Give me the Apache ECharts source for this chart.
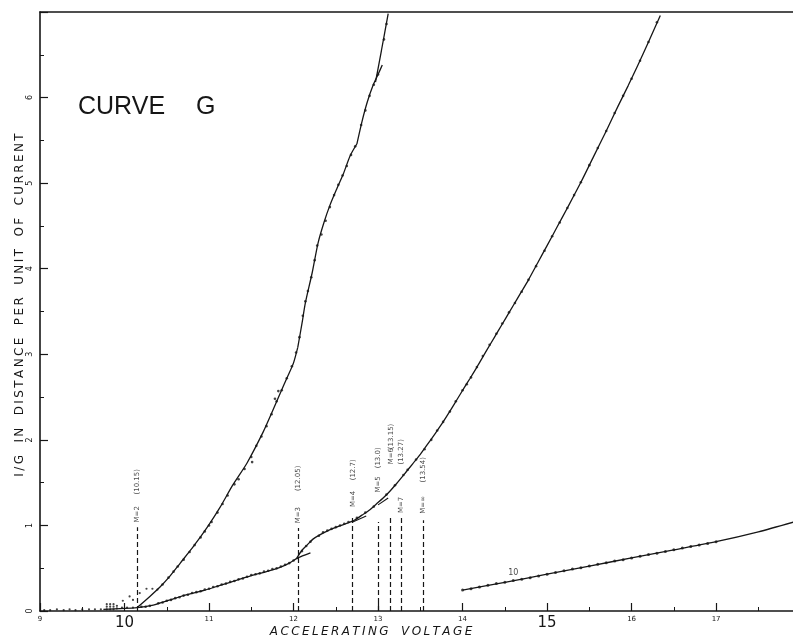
<!DOCTYPE html>
<html><head><meta charset="utf-8">
<script src="https://cdn.jsdelivr.net/npm/echarts@6/dist/echarts.min.js"></script>
<style>html,body{margin:0;padding:0;background:#fff}#c{width:793px;height:641px}</style>
</head><body><div id="c"></div>
<script>
// ---------- DATA ----------
const xTickValues = [9,10,11,12,13,14,15,16,17];
const bigXTicks = [10,15];
const yTickValues = [0,1,2,3,4,5,6];

// steep curve (left)
const curve1Lower  = [[10.15,0.04],[10.3,0.17],[10.42,0.28],[10.54,0.41],[10.66,0.56],[10.82,0.76],[10.98,0.98],[11.13,1.21],[11.28,1.47],[11.45,1.73],[11.64,2.09],[11.74,2.31],[11.84,2.54],[11.93,2.74],[12.0,2.9],[12.05,3.08]];
const curve1Middle = [[12.05,3.08],[12.10,3.36],[12.14,3.60],[12.22,3.95],[12.29,4.30],[12.36,4.54],[12.43,4.74],[12.51,4.93],[12.59,5.11],[12.67,5.32],[12.75,5.46]];
const curve1Upper  = [[12.75,5.46],[12.81,5.72],[12.87,5.94],[12.94,6.14],[13.0,6.27],[13.05,6.38]];
const curve1Top    = [[12.97,6.18],[13.04,6.55],[13.12,6.98]];
const curve1Dots = [[10.45,0.31],[10.52,0.39],[10.58,0.46],[10.63,0.52],[10.7,0.6],[10.77,0.69],[10.83,0.77],[10.9,0.86],[10.95,0.93],[11.0,1.0],[11.03,1.04],[11.1,1.15],[11.16,1.25],[11.22,1.35],[11.3,1.48],[11.35,1.54],[11.42,1.66],[11.5,1.8],[11.56,1.93],[11.62,2.04],[11.68,2.16],[11.74,2.3],[11.8,2.45],[11.86,2.58],[11.92,2.72],[11.98,2.86],[12.03,3.02],[12.07,3.2],[12.11,3.45],[12.14,3.62],[12.17,3.74],[12.21,3.9],[12.25,4.1],[12.28,4.27],[12.33,4.4],[12.38,4.56],[12.43,4.72],[12.48,4.86],[12.53,4.98],[12.58,5.09],[12.63,5.2],[12.68,5.33],[12.73,5.43],[12.8,5.68],[12.85,5.85],[12.9,6.02],[12.95,6.15],[13.0,6.27],[13.07,6.68],[13.1,6.86],[11.78,2.48],[11.82,2.57],[11.51,1.74]];

// middle curve
const curve2Lower = [[9.75,0.02],[10.15,0.04],[10.34,0.07],[10.54,0.13],[10.74,0.19],[10.94,0.24],[11.13,0.30],[11.33,0.36],[11.52,0.42],[11.68,0.46],[11.84,0.51],[11.95,0.56],[12.05,0.62],[12.2,0.68]];
const curve2Upper = [[12.04,0.62],[12.1,0.71],[12.16,0.77],[12.23,0.84],[12.31,0.89],[12.41,0.94],[12.51,0.98],[12.62,1.02],[12.72,1.06],[12.81,1.12],[12.9,1.18],[12.98,1.25],[13.06,1.32],[13.14,1.4],[13.22,1.49],[13.32,1.61],[13.41,1.72],[13.5,1.83],[13.58,1.94],[13.68,2.08],[13.77,2.21],[13.86,2.35],[13.94,2.48],[14.02,2.61],[14.09,2.72],[14.17,2.85],[14.24,2.97],[14.33,3.12],[14.42,3.27],[14.51,3.42],[14.6,3.57],[14.69,3.72],[14.78,3.87],[14.89,4.07],[15.0,4.27],[15.12,4.49],[15.24,4.71],[15.4,5.01],[15.55,5.31],[15.7,5.61],[15.84,5.9],[15.96,6.14],[16.07,6.37],[16.2,6.65],[16.34,6.96]];
const curve2Ext1 = [[12.7,1.04],[12.86,1.11]];
const curve2Ext2 = [[13.0,1.24],[13.12,1.32]];
const curve2Dots = [[10.2,0.05],[10.25,0.05],[10.3,0.06],[10.4,0.09],[10.45,0.1],[10.5,0.12],[10.55,0.13],[10.6,0.15],[10.65,0.16],[10.7,0.18],[10.75,0.19],[10.8,0.21],[10.85,0.22],[10.9,0.23],[10.95,0.25],[11.0,0.26],[11.05,0.28],[11.1,0.29],[11.15,0.31],[11.2,0.32],[11.25,0.34],[11.3,0.35],[11.35,0.37],[11.4,0.38],[11.45,0.4],[11.5,0.42],[11.55,0.43],[11.6,0.44],[11.65,0.46],[11.7,0.47],[11.75,0.49],[11.8,0.5],[11.85,0.52],[11.9,0.54],[11.95,0.56],[12.0,0.59],[12.05,0.62],[12.1,0.7],[12.15,0.76],[12.2,0.81],[12.3,0.88],[12.35,0.92],[12.4,0.94],[12.45,0.96],[12.5,0.98],[12.55,1.0],[12.6,1.02],[12.65,1.04],[12.75,1.09],[12.85,1.15],[12.95,1.22],[13.1,1.36],[13.2,1.47],[13.3,1.59],[13.35,1.65],[13.45,1.77],[13.55,1.89],[13.63,2.0],[13.7,2.11],[13.77,2.21],[13.85,2.33],[13.92,2.45],[14.0,2.58],[14.05,2.65],[14.1,2.73],[14.17,2.85],[14.24,2.98],[14.32,3.11],[14.4,3.24],[14.47,3.36],[14.55,3.49],[14.62,3.6],[14.7,3.73],[14.78,3.87],[14.87,4.03],[14.97,4.21],[15.06,4.38],[15.15,4.54],[15.24,4.71],[15.32,4.86],[15.4,5.01],[15.5,5.21],[15.6,5.41],[15.7,5.61],[15.8,5.82],[15.9,6.02],[16.0,6.22],[16.1,6.43],[16.2,6.65],[16.3,6.88]];

// near-zero scattered points
const zeroDots = [[9.05,0.01],[9.12,0.01],[9.2,0.02],[9.28,0.01],[9.35,0.02],[9.42,0.01],[9.5,0.02],[9.58,0.02],[9.65,0.02],[9.72,0.02],[9.79,0.02],[9.79,0.05],[9.79,0.08],[9.83,0.02],[9.83,0.05],[9.83,0.08],[9.87,0.02],[9.87,0.05],[9.87,0.08],[9.91,0.03],[9.91,0.06],[9.97,0.04],[10.03,0.04],[10.1,0.04],[9.98,0.12],[10.06,0.17],[10.1,0.13],[10.18,0.21],[10.26,0.26],[10.33,0.26],[10.39,0.25]];

// curve "10"
const curve3Line = [[14.0,0.245],[14.5,0.335],[15.0,0.43],[15.5,0.525],[16.0,0.62],[16.5,0.715],[17.0,0.81],[17.5,0.925],[17.92,1.04]];
const curve3X = [14.0,14.1,14.2,14.3,14.4,14.5,14.6,14.7,14.8,14.9,15.0,15.1,15.2,15.3,15.4,15.5,15.6,15.7,15.8,15.9,16.0,16.1,16.2,16.3,16.4,16.5,16.6,16.7,16.8,16.9,17.0];
const curve3Y = [0.245,0.26,0.28,0.30,0.32,0.335,0.355,0.37,0.39,0.41,0.43,0.45,0.47,0.49,0.505,0.525,0.545,0.565,0.585,0.60,0.62,0.64,0.66,0.675,0.695,0.715,0.735,0.755,0.77,0.79,0.81];
const curve3Label = {x:14.6, y:0.44, text:'10'};

// series-limit markers
const markerX     = [10.15, 12.05, 12.7, 13.0, 13.15, 13.27, 13.54];
const markerTop   = [0.98, 0.97, 1.10, 1.04, 1.10, 1.12, 1.06];
const markerNames = ['M=2','M=3','M=4','M=5','M=6','M=7','M=∞'];
const markerVals  = ['(10.15)','(12.05)','(12.7)','(13.0)','(13.15)','(13.27)','(13.54)'];
const markerNameY = [1.13, 1.12, 1.31, 1.48, 1.81, 1.24, 1.24];
const markerValY  = [1.51, 1.55, 1.65, 1.79, 2.04, 1.86, 1.65];

const titleText = 'CURVE G';
const xName = 'ACCELERATING VOLTAGE';
const yName = 'I/G IN DISTANCE PER UNIT OF CURRENT';

// ---------- CHART ----------
const INK = '#161616';
const FONT = '"DejaVu Sans", "Liberation Sans", sans-serif';
const X_MIN = 9, X_MAX = 17.91;
const chart = echarts.init(document.getElementById('c'), null, {renderer:'canvas'});

function spaced(s, sep){ return s.split(' ').map(w => w.split('').join(sep)).join(sep+'  '+sep); }

function lineSeries(data, w){
  return {type:'line', data, smooth:0.25, showSymbol:false, silent:true, clip:true,
    lineStyle:{color:INK, width:w||1.3}, z:3};
}
function dotSeries(data, size){
  return {type:'scatter', data, symbol:'circle', symbolSize:size||2.6, silent:true,
    itemStyle:{color:INK}, z:4};
}

const option = {
  animation:false,
  backgroundColor:'#fff',
  grid:{left:40, right:0, top:12, bottom:30},
  xAxis:[{
    type:'value', min:X_MIN, max:X_MAX, interval:1,
    axisLine:{show:true, onZero:false, lineStyle:{color:INK, width:1.6}},
    axisTick:{show:true, inside:true, length:8, lineStyle:{color:INK, width:1.2}},
    splitLine:{show:false},
    axisLabel:{margin:5, color:INK, fontFamily:FONT, showMaxLabel:false,
      formatter:v => xTickValues.includes(v) ? (bigXTicks.includes(v) ? '{b|'+v+'}' : '{s|'+v+'}') : '',
      rich:{s:{fontSize:7, fontFamily:FONT, color:INK}, b:{fontSize:15, fontFamily:FONT, color:INK}}}
  },{
    type:'value', min:X_MIN, max:X_MAX, position:'top',
    axisLine:{show:true, onZero:false, lineStyle:{color:INK, width:1.6}},
    axisTick:{show:false}, axisLabel:{show:false}, splitLine:{show:false}
  },{
    type:'value', min:X_MIN, max:X_MAX, interval:0.5, position:'bottom',
    axisLine:{show:false}, axisLabel:{show:false}, splitLine:{show:false},
    axisTick:{show:true, inside:true, length:4, lineStyle:{color:INK, width:1}}
  }],
  yAxis:{
    type:'value', min:0, max:7, interval:1,
    axisLine:{show:true, onZero:false, lineStyle:{color:INK, width:1.6}},
    axisTick:{show:true, inside:true, length:8, lineStyle:{color:INK, width:1.2}},
    minorTick:{show:true, splitNumber:2, length:4, lineStyle:{color:INK, width:1}},
    splitLine:{show:false},
    axisLabel:{margin:6, rotate:90, fontSize:8, color:INK, fontFamily:FONT,
      formatter:v => yTickValues.includes(v) ? String(v) : ''}
  },
  series:[
    lineSeries(curve1Lower), lineSeries(curve1Middle), lineSeries(curve1Upper), lineSeries(curve1Top),
    lineSeries(curve2Lower), lineSeries(curve2Upper), lineSeries(curve2Ext1,1.1), lineSeries(curve2Ext2,1.1),
    lineSeries(curve3Line),
    dotSeries(curve1Dots), dotSeries(curve2Dots), dotSeries(zeroDots,2.2),
    dotSeries(curve3X.map((x,i)=>[x,curve3Y[i]]), 3),
    {
      type:'scatter', silent:true, symbolSize:0, z:5,
      data: markerX.map((x,i)=>[x, markerNameY[i]]),
      label:{show:true, position:'inside', rotate:90, fontSize:7, color:INK, fontFamily:FONT,
        formatter:p => markerNames[p.dataIndex]},
      markLine:{silent:true, symbol:['none','arrow'], symbolSize:[0,5], label:{show:false},
        lineStyle:{color:INK, width:1.2, type:[5,3]},
        data: markerX.map((x,i)=>[{coord:[x,0]},{coord:[x,markerTop[i]]}])}
    },
    {
      type:'scatter', silent:true, symbolSize:0, z:5,
      data: markerX.map((x,i)=>[x, markerValY[i]]),
      label:{show:true, position:'inside', rotate:90, fontSize:7, color:INK, fontFamily:FONT,
        formatter:p => markerVals[p.dataIndex]}
    },
    {
      type:'scatter', silent:true, symbolSize:0, z:5,
      data:[[curve3Label.x, curve3Label.y]],
      label:{show:true, position:'inside', fontSize:8, color:INK, fontFamily:FONT, formatter:curve3Label.text}
    }
  ],
  graphic:[
    {type:'text', left:78, top:95, style:{text:titleText.split(' ')[0], font:'25px "Liberation Sans", sans-serif', fill:INK}},
    {type:'text', left:196, top:95, style:{text:titleText.split(' ')[1], font:'25px "Liberation Sans", sans-serif', fill:INK}},
    {type:'text', x:20, y:305, rotation:Math.PI/2,
      style:{text:spaced(yName,'\u2009'), font:'12px "DejaVu Sans", sans-serif', fill:INK, align:'center', verticalAlign:'middle'}},
    {type:'text', x:371, y:632,
      style:{text:spaced(xName,'\u2009'), font:'italic 12px "DejaVu Sans", sans-serif', fill:INK, align:'center', verticalAlign:'middle'}}
  ]
};
chart.setOption(option);
</script>
</body></html>
